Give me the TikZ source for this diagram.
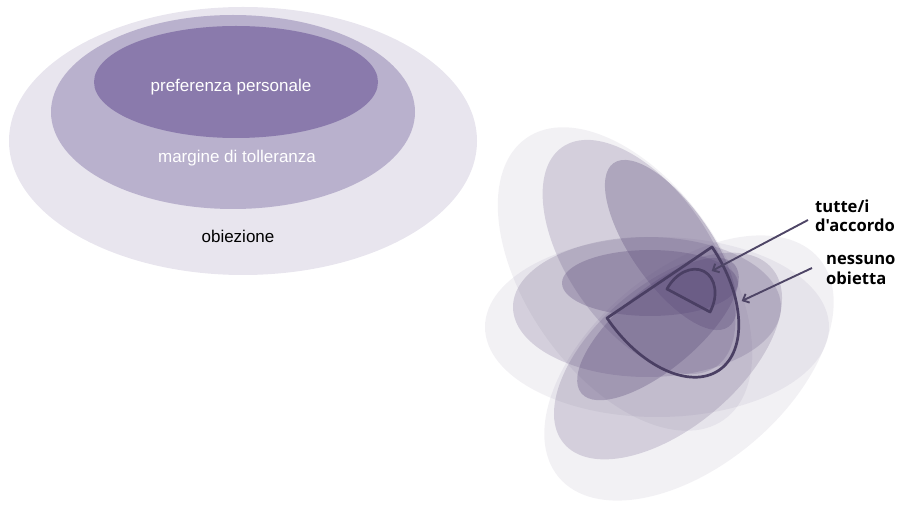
\documentclass[tikz,border=0pt]{standalone}
\usepackage{fontspec}
\setmainfont{Liberation Sans}
\newfontfamily\tagfont{Open Sans}
\usetikzlibrary{arrows.meta}
\definecolor{prlight}{HTML}{E8E5EE}
\definecolor{prmid}{HTML}{B9B1CD}
\definecolor{prdark}{HTML}{8A7AAC}
\definecolor{prink}{HTML}{5A4A78}
\definecolor{prline}{HTML}{4A3F63}
\definecolor{prarrow}{HTML}{4E4566}
\tikzset{
  zoneout/.style={fill=prlight},
  zonemid/.style={fill=prmid},
  zonein/.style={fill=prdark},
  veilout/.style={fill=prink,fill opacity=0.08},
  veilmid/.style={fill=prink,fill opacity=0.2},
  veilin/.style={fill=prink,fill opacity=0.31},
  say/.style={font=\fontsize{17}{20}\selectfont,anchor=base,inner sep=0pt},
  tag/.style={font=\tagfont\bfseries\fontsize{16.6}{19.5}\selectfont,align=left,
              anchor=west,inner sep=0pt},
  rim/.style={draw=prline,line width=2.7pt,line join=round},
  ar/.style={-{Straight Barb[length=1.8mm,width=3.4mm]},line width=1.9pt,prarrow},
}

\begin{document}
\begin{tikzpicture}[x=1pt,y=1pt]
  \useasboundingbox (0,0) rectangle (899,509);
  \fill[zoneout] (243,368) ellipse[x radius=234,y radius=134];
  \fill[zonemid] (233,397) ellipse[x radius=182,y radius=97];
  \fill[zonein] (236,427) ellipse[x radius=142,y radius=56];
  \node[say,text=white] (pref) at (231,417) {preferenza personale};
  \node[say,text=white] (marg) at (237,346) {margine di tolleranza};
  \node[say] (obj) at (238,266) {obiezione};

  \fill[veilout,rotate around={-55:(625,230)}] (625,230) ellipse[x radius=172,y radius=98];
  \fill[veilmid,rotate around={-55:(639,252)}] (639,252) ellipse[x radius=134,y radius=71];
  \fill[veilin,rotate around={-55:(671,264)}] (671,264) ellipse[x radius=100,y radius=40];
  \fill[veilout] (657,182) ellipse[x radius=172,y radius=90];
  \fill[veilmid] (647,202) ellipse[x radius=134,y radius=70];
  \fill[veilin] (650,226) ellipse[x radius=88,y radius=33];
  \fill[veilout,rotate around={40:(689,141)}] (689,141) ellipse[x radius=170,y radius=98];
  \fill[veilmid,rotate around={40:(668,153)}] (668,153) ellipse[x radius=136,y radius=72];
  \fill[veilin,rotate around={40:(658,180)}] (658,180) ellipse[x radius=100,y radius=40];

  \draw[rim] [shift={(659.5,226.5)},rotate=34.1] (-63.4,0) -- (63.4,0)
    arc[start angle=0,end angle=-180,x radius=63.4,y radius=106] -- cycle;
  \draw[rim,fill=prink,fill opacity=0.2] [shift={(688.5,208.5)},rotate=-28.1] (-24.4,0) -- (24.4,0)
    arc[start angle=0,end angle=180,x radius=24.4,y radius=33] -- cycle;
  \coordinate (agreetip) at (711.7,238);
  \coordinate (noobjtip) at (741.7,208);

  \node[tag] (agree) at (815,293) {tutte/i\\d'accordo};
  \node[tag] (noobj) at (826,239) {nessuno\\obietta};
  \draw[ar] ([xshift=-7pt,yshift=-4pt]agree.west) -- (agreetip);
  \draw[ar] ([xshift=-14pt,yshift=2pt]noobj.west) -- (noobjtip);
\end{tikzpicture}
\end{document}
